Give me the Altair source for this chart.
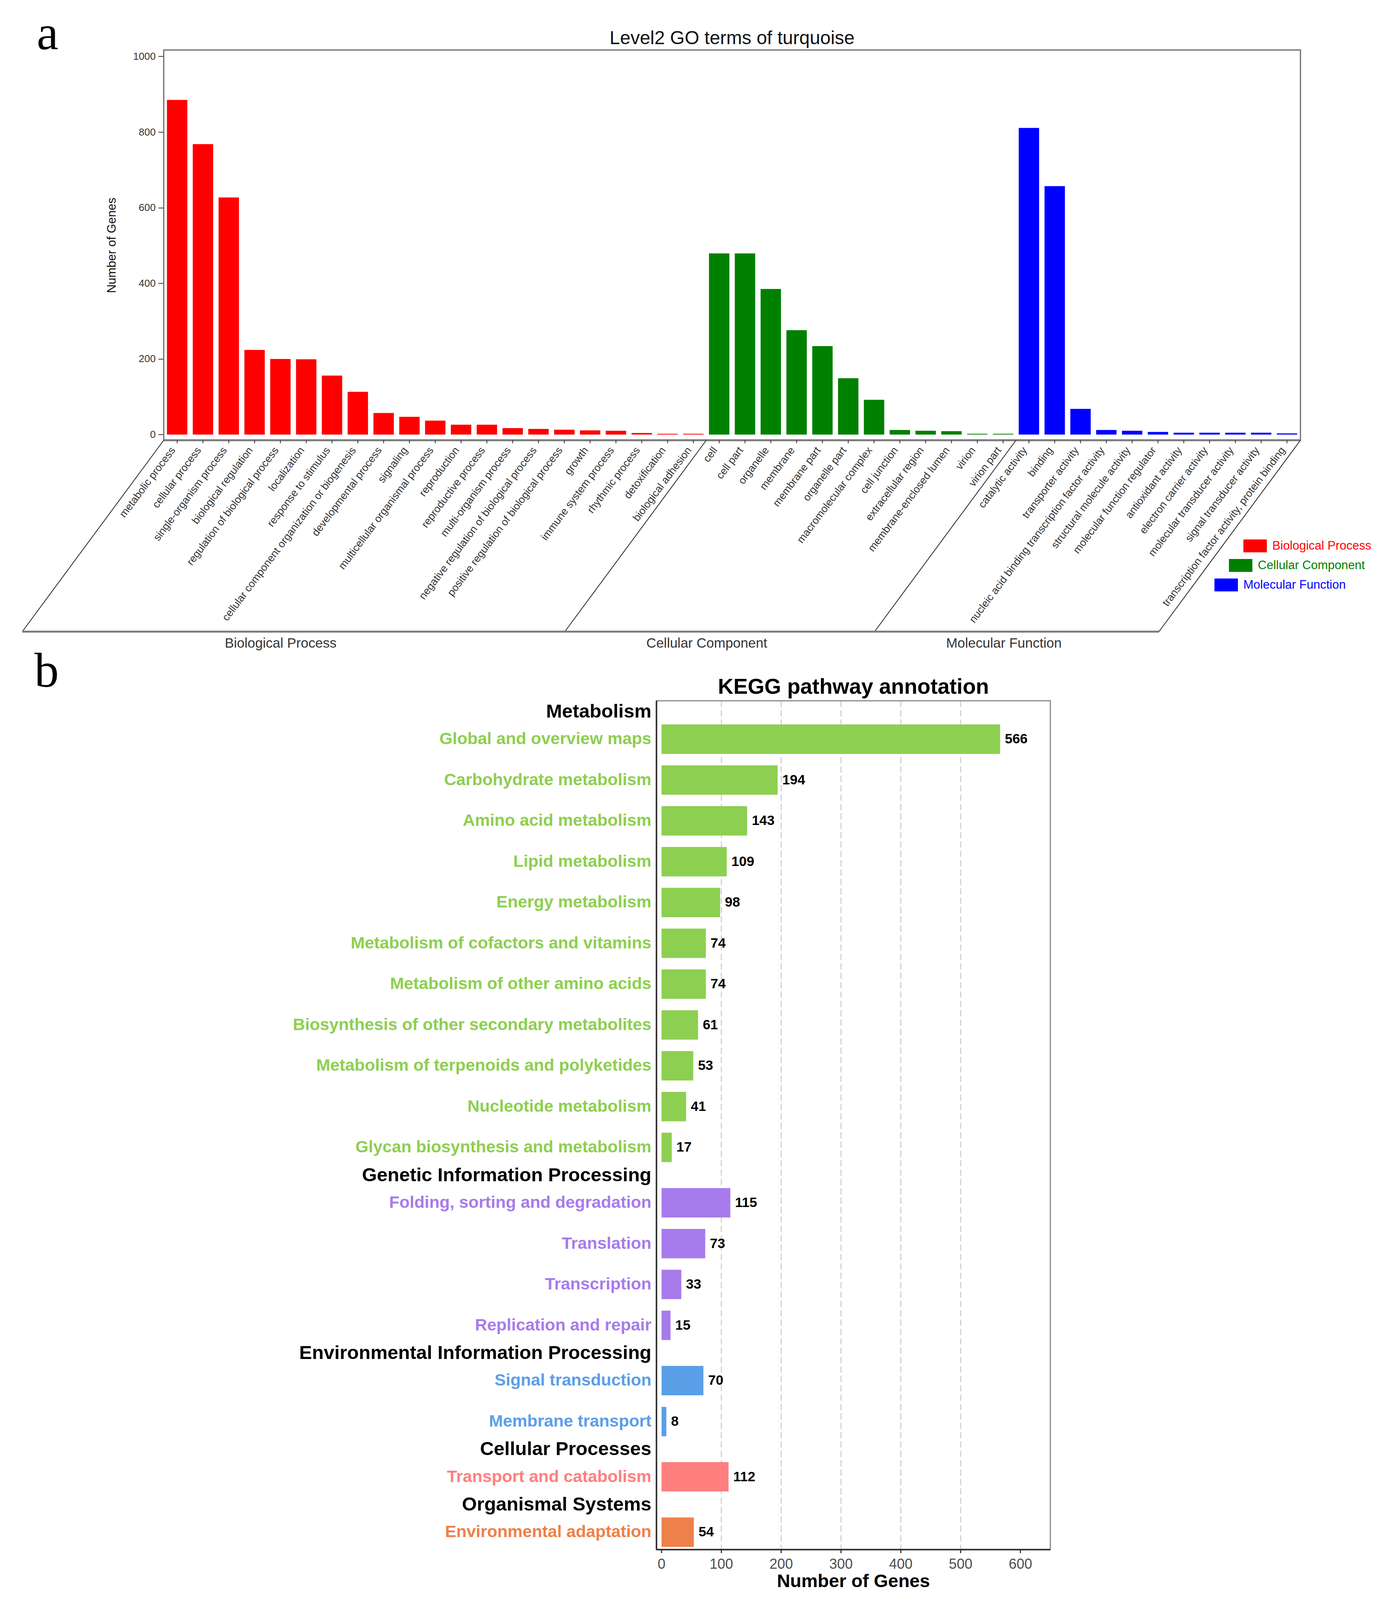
import altair as alt
import pandas as pd

# ---------------- Panel a : Level2 GO terms ----------------
go_groups = ["Biological Process", "Cellular Component", "Molecular Function"]
go_colors = ["#FF0000", "#008000", "#0000FF"]

bp_terms = ["metabolic process", "cellular process", "single-organism process",
            "biological regulation", "regulation of biological process", "localization",
            "response to stimulus", "cellular component organization or biogenesis",
            "developmental process", "signaling", "multicellular organismal process",
            "reproduction", "reproductive process", "multi-organism process",
            "negative regulation of biological process",
            "positive regulation of biological process", "growth",
            "immune system process", "rhythmic process", "detoxification",
            "biological adhesion"]
bp_vals = [885, 768, 627, 224, 200, 199, 156, 113, 57, 47, 37, 26, 26, 17, 15, 13,
           11, 10, 4, 2, 2]

cc_terms = ["cell", "cell part", "organelle", "membrane", "membrane part",
            "organelle part", "macromolecular complex", "cell junction",
            "extracellular region", "membrane-enclosed lumen", "virion", "virion part"]
cc_vals = [479, 479, 385, 276, 234, 149, 92, 12, 10, 9, 2, 2]

mf_terms = ["catalytic activity", "binding", "transporter activity",
            "nucleic acid binding transcription factor activity",
            "structural molecule activity", "molecular function regulator",
            "antioxidant activity", "electron carrier activity",
            "molecular transducer activity", "signal transducer activity",
            "transcription factor activity, protein binding"]
mf_vals = [811, 657, 68, 12, 10, 7, 5, 5, 5, 5, 3]

go_ticks = [0, 200, 400, 600, 800, 1000]

# ---------------- Panel b : KEGG pathway annotation ----------------
kegg_groups = ["Metabolism", "Genetic Information Processing",
               "Environmental Information Processing", "Cellular Processes",
               "Organismal Systems"]
kegg_colors = ["#8DCF50", "#A77BEC", "#5B9EE8", "#FF7F7F", "#EE8049"]

met_terms = ["Global and overview maps", "Carbohydrate metabolism",
             "Amino acid metabolism", "Lipid metabolism", "Energy metabolism",
             "Metabolism of cofactors and vitamins", "Metabolism of other amino acids",
             "Biosynthesis of other secondary metabolites",
             "Metabolism of terpenoids and polyketides", "Nucleotide metabolism",
             "Glycan biosynthesis and metabolism"]
met_vals = [566, 194, 143, 109, 98, 74, 74, 61, 53, 41, 17]
gip_terms = ["Folding, sorting and degradation", "Translation", "Transcription",
             "Replication and repair"]
gip_vals = [115, 73, 33, 15]
eip_terms = ["Signal transduction", "Membrane transport"]
eip_vals = [70, 8]
cp_terms = ["Transport and catabolism"]
cp_vals = [112]
os_terms = ["Environmental adaptation"]
os_vals = [54]
kegg_ticks = [0, 100, 200, 300, 400, 500, 600]
kegg_grid = [100, 200, 300, 400, 500]

FONT = "Liberation Sans"
one = pd.DataFrame({"k": [0]})


def txt(text, x, y, **kw):
    return alt.Chart(one).mark_text(text=text, **kw).encode(x=alt.value(x), y=alt.value(y))


def seg(x1, y1, x2, y2, **kw):
    return alt.Chart(one).mark_rule(**kw).encode(
        x=alt.value(x1), y=alt.value(y1), x2=alt.value(x2), y2=alt.value(y2))


# overall view: one layered canvas holding both panels
W = 2909
HA = 999                    # panel a plot height
B_TOP, B_BOT = 1666, 3839   # panel b plot box (y, in px of the view)
XR = [1261, 2269]           # panel b plot box (x)

# ======== panel a ========
rows = []
for g, terms, vals in zip(go_groups, [bp_terms, cc_terms, mf_terms],
                          [bp_vals, cc_vals, mf_vals]):
    for t, v in zip(terms, vals):
        rows.append({"term": t, "value": v, "ontology": g})
go_df = pd.DataFrame(rows)
order = list(go_df["term"])
n = len(order)

PI, PO = 0.21, 0.125
step = W / (n - PI + 2 * PO)
xa = alt.Scale(paddingInner=PI, paddingOuter=PO)
ya = alt.Scale(domain=[-15, 1017], range=[HA, 0], nice=False, zero=False)

box_a = alt.Chart(one).mark_rect(fill="transparent", stroke="#6a6a6a",
                                 strokeWidth=3).encode(
    x=alt.value(0), x2=alt.value(W), y=alt.value(0), y2=alt.value(HA))

bars_a = alt.Chart(go_df).mark_bar().encode(
    x=alt.X("term:N", sort=order, scale=xa, axis=None),
    y=alt.Y("value:Q", scale=ya,
            axis=alt.Axis(orient="left", values=go_ticks, format="d",
                          title="Number of Genes", titleFont=FONT, titleFontSize=31,
                          titleFontWeight="normal", titleColor="#111111",
                          titlePadding=38, labelFont=FONT, labelFontSize=26,
                          labelColor="#333333", labelPadding=7, tickSize=14,
                          tickColor="#333333", tickWidth=2, domain=False, grid=False)),
    y2=alt.datum(0),
    color=alt.Color("ontology:N", scale=alt.Scale(domain=go_groups, range=go_colors),
                    legend=None),
)

axis_a = seg(0, HA, W, HA, color="#7a7a7a", strokeWidth=5)
ticks_a = alt.Chart(go_df).mark_rule(color="#333333", strokeWidth=2).encode(
    x=alt.X("term:N", sort=order, scale=xa, axis=None),
    y=alt.value(HA), y2=alt.value(HA + 8))
labels_a = alt.Chart(go_df).mark_text(font=FONT, fontSize=27, color="#333333",
                                      angle=307, align="right",
                                      baseline="middle").encode(
    x=alt.X("term:N", sort=order, scale=xa, axis=None, bandPosition=0.31),
    y=alt.value(HA + 21), text="term:N")

layers_a = [box_a, bars_a, axis_a, ticks_a, labels_a]

# group parallelogram below the axis
SL, DH = 362, 490
cuts = [0.0]
count = 0
for terms in [bp_terms, cc_terms]:
    count += len(terms)
    cuts.append(PO * step + count * step - PI * step / 2)
cuts.append(W)
for c in cuts:
    layers_a.append(seg(c, HA, c - SL, HA + DH, color="#222222", strokeWidth=2))
layers_a.append(seg(cuts[0] - SL, HA + DH, cuts[-1] - SL, HA + DH,
                    color="#7a7a7a", strokeWidth=5))
for i, g in enumerate(go_groups):
    mid = (cuts[i] + cuts[i + 1]) / 2 - SL - 33
    layers_a.append(txt(g, mid, HA + DH + 30, font=FONT, fontSize=35,
                        color="#333333", align="center", baseline="middle"))

# staggered legend
for i, (g, c) in enumerate(zip(go_groups, go_colors)):
    lx, ly = 2763 - 37 * i, 1253 + 50 * i
    layers_a.append(alt.Chart(one).mark_rect(color=c).encode(
        x=alt.value(lx), x2=alt.value(lx + 60), y=alt.value(ly), y2=alt.value(ly + 33)))
    layers_a.append(txt(g, lx + 74, ly + 17, font=FONT, fontSize=31, color=c,
                        align="left", baseline="middle"))

layers_a.append(txt("Level2 GO terms of turquoise", W / 2, -15, font=FONT,
                    fontSize=48, color="#111111", align="center",
                    baseline="alphabetic"))
layers_a.append(txt("a", -325, -2, font="Liberation Serif", fontSize=125,
                    color="#000000", align="left", baseline="alphabetic"))

panel_a = alt.layer(*layers_a)

# ======== panel b ========
GAP = 0.356
krows, hrows = [], []
r = 0
for gi, (g, terms, vals) in enumerate(zip(
        kegg_groups, [met_terms, gip_terms, eip_terms, cp_terms, os_terms],
        [met_vals, gip_vals, eip_vals, cp_vals, os_vals])):
    for j, (t, v) in enumerate(zip(terms, vals)):
        pos = r + GAP * gi
        if j == 0:
            hrows.append({"header": g, "pos": pos - 0.675})
        krows.append({"pathway": t, "count": v, "category": g, "pos": pos,
                      "y0": pos - 0.36, "y1": pos + 0.36})
        r += 1
kdf = pd.DataFrame(krows)
hdf = pd.DataFrame(hrows)
gdf = pd.DataFrame({"count": kegg_grid})
tdf = pd.DataFrame({"count": kegg_ticks})

xb = alt.Scale(domain=[-8.5, 650], range=XR, nice=False, zero=False)
yb = alt.Scale(domain=[-0.94, 19.85], range=[B_TOP, B_BOT], nice=False, zero=False)
cb = alt.Scale(domain=kegg_groups, range=kegg_colors)

grid_b = alt.Chart(gdf).mark_rule(color="#d2d2d2", strokeWidth=3,
                                  strokeDash=[16, 8]).encode(
    x=alt.X("count:Q", scale=xb, axis=None),
    y=alt.value(B_TOP), y2=alt.value(B_BOT))

box_b = alt.Chart(one).mark_rect(fill="transparent", stroke="#8a8a8a",
                                 strokeWidth=3).encode(
    x=alt.value(XR[0]), x2=alt.value(XR[1]), y=alt.value(B_TOP), y2=alt.value(B_BOT))
left_b = seg(XR[0], B_TOP, XR[0], B_BOT, color="#333333", strokeWidth=4)
bottom_b = seg(XR[0], B_BOT, XR[1], B_BOT, color="#333333", strokeWidth=4)

tick_b = alt.Chart(tdf).mark_rule(color="#333333", strokeWidth=3).encode(
    x=alt.X("count:Q", scale=xb, axis=None),
    y=alt.value(B_BOT), y2=alt.value(B_BOT + 9))
ticklab_b = alt.Chart(tdf).mark_text(font=FONT, fontSize=36, color="#4d4d4d",
                                     align="center", baseline="middle").encode(
    x=alt.X("count:Q", scale=xb, axis=None), y=alt.value(B_BOT + 38),
    text="count:Q")
xtitle_b = txt("Number of Genes", (XR[0] + XR[1]) / 2, B_BOT + 82, font=FONT,
               fontSize=47, fontWeight="bold", color="#000000", align="center",
               baseline="middle")

bars_b = alt.Chart(kdf).mark_bar().encode(
    x=alt.X("count:Q", scale=xb, axis=None),
    x2=alt.datum(0),
    y=alt.Y("y0:Q", scale=yb, axis=None),
    y2="y1:Q",
    color=alt.Color("category:N", scale=cb, legend=None))

vals_b = alt.Chart(kdf).mark_text(font=FONT, fontSize=35, fontWeight="bold",
                                  color="#000000", align="left", baseline="middle",
                                  dx=12).encode(
    x=alt.X("count:Q", scale=xb, axis=None), y=alt.Y("pos:Q", scale=yb, axis=None),
    text="count:Q")

labels_b = alt.Chart(kdf).mark_text(font=FONT, fontSize=43, fontWeight="bold",
                                    align="right", baseline="middle").encode(
    x=alt.value(XR[0] - 13), y=alt.Y("pos:Q", scale=yb, axis=None),
    text="pathway:N", color=alt.Color("category:N", scale=cb, legend=None))

heads_b = alt.Chart(hdf).mark_text(font=FONT, fontSize=49, fontWeight="bold",
                                   color="#000000", align="right",
                                   baseline="middle").encode(
    x=alt.value(XR[0] - 13), y=alt.Y("pos:Q", scale=yb, axis=None),
    text="header:N")

title_b = txt("KEGG pathway annotation", (XR[0] + XR[1]) / 2, 1648, font=FONT,
              fontSize=55, fontWeight="bold", color="#000000", align="center",
              baseline="alphabetic")
letter_b = txt("b", -331, 1630, font="Liberation Serif", fontSize=125,
               color="#000000", align="left", baseline="alphabetic")

panel_b = alt.layer(grid_b, box_b, bars_b, vals_b, labels_b, heads_b, left_b,
                    bottom_b, tick_b, ticklab_b, xtitle_b, title_b, letter_b)

chart = alt.layer(panel_a, panel_b).resolve_scale(
    x="independent", y="independent", color="independent").properties(
    width=W, height=B_BOT,
    view=alt.ViewBackground(stroke="transparent"),
    padding={"left": 46, "top": 18, "right": 5, "bottom": 5},
    background="#ffffff")

chart.save("out.html", embed_options={"renderer": "svg", "actions": False})
